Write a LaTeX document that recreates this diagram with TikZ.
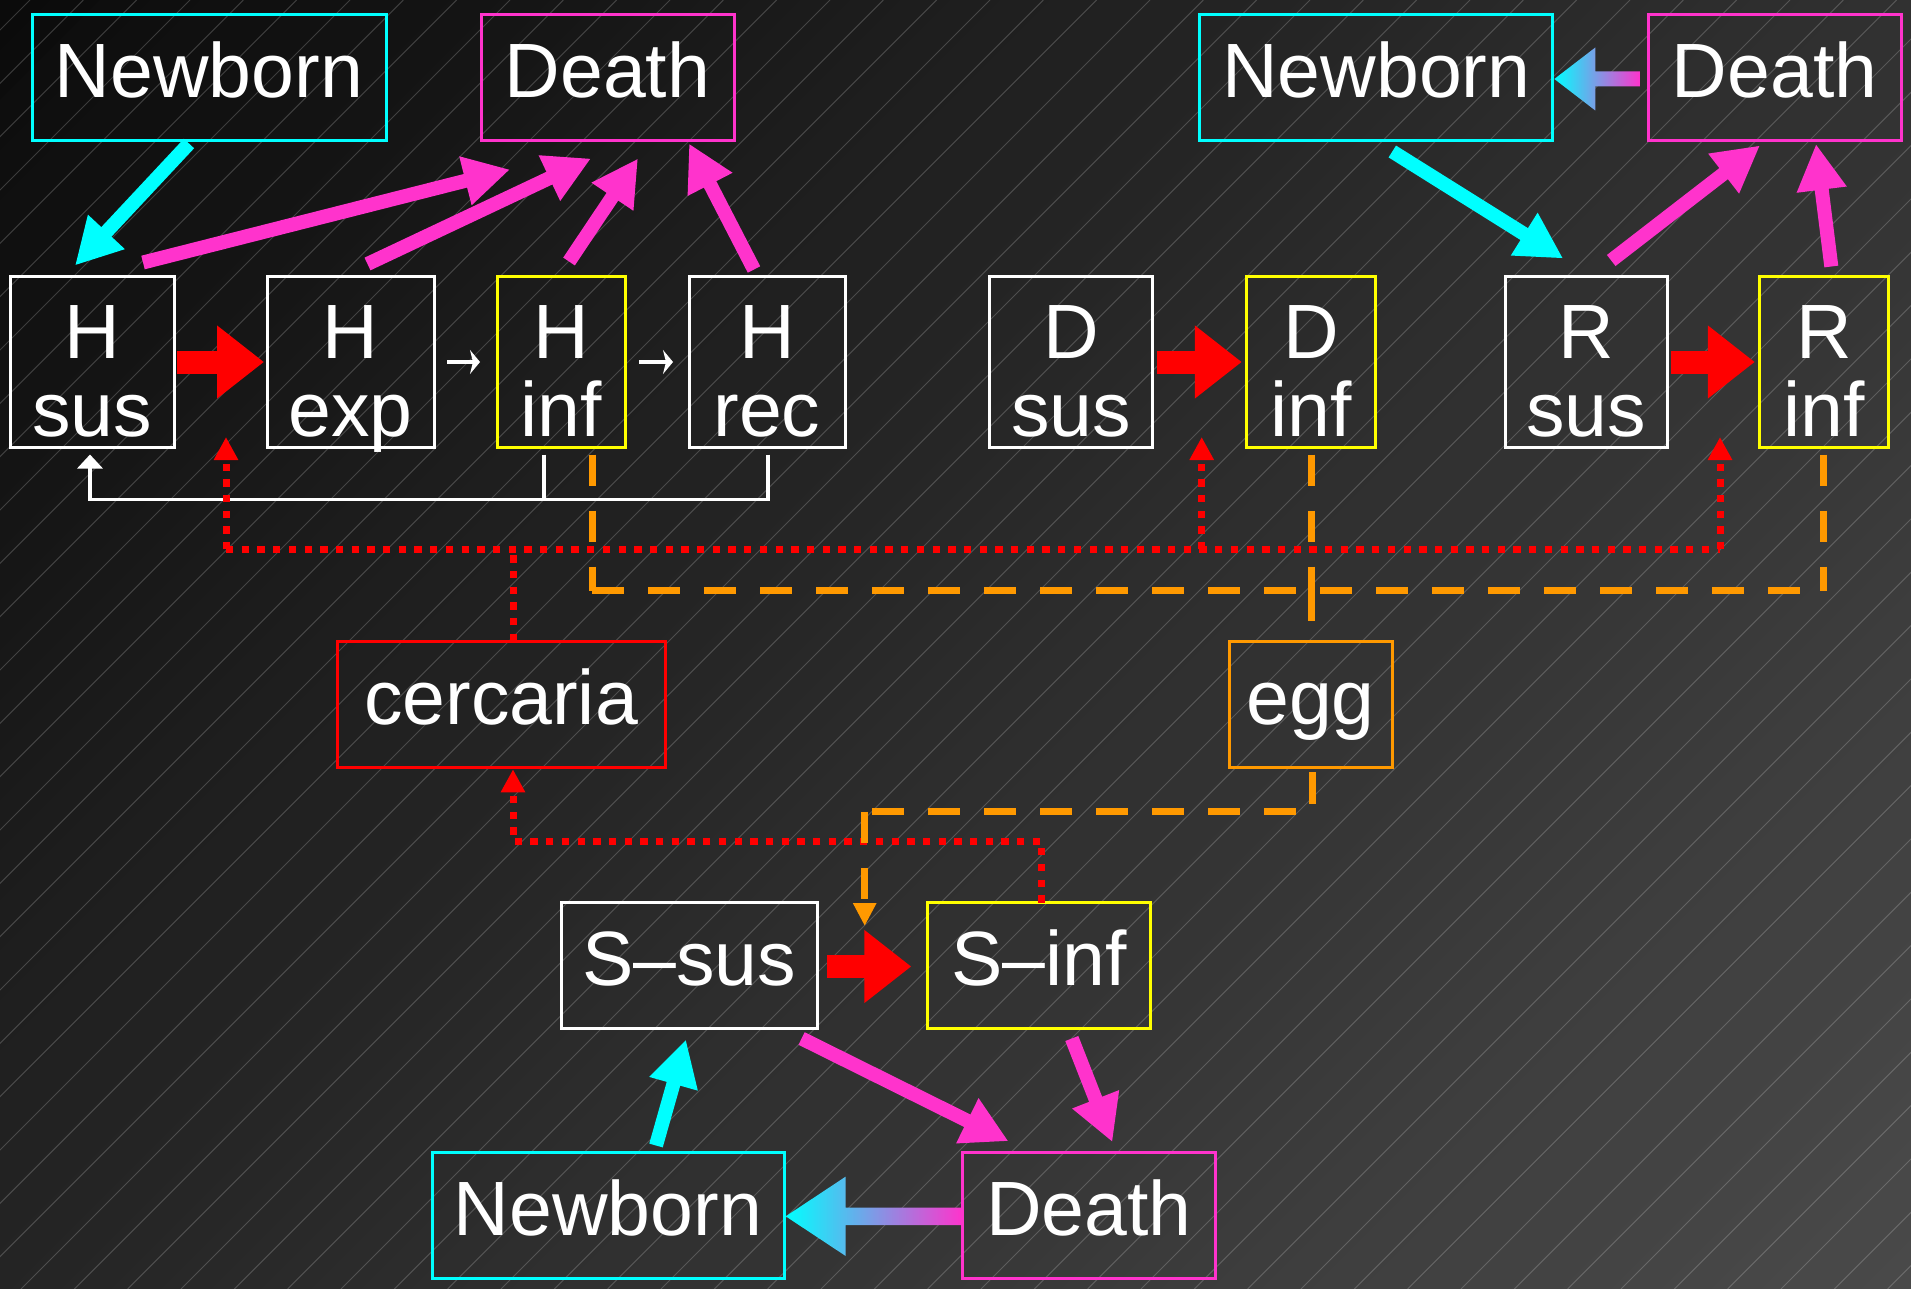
\documentclass[tikz,border=0pt]{standalone}
\usepackage{fontspec}
\setmainfont{Liberation Sans}
\usetikzlibrary{arrows.meta,calc}

\definecolor{cyanC}{HTML}{00FFFF}
\definecolor{magC}{HTML}{FF33CC}
\definecolor{yelC}{HTML}{FFFF00}
\definecolor{redC}{HTML}{FF0000}
\definecolor{oraC}{HTML}{FF9900}
\definecolor{bgA}{HTML}{0B0B0B}
\definecolor{bgB}{HTML}{4A4A4A}

% two centred lines, baseline on the first one
\newcommand\pair[2]{\vtop{\halign{\hfil##\hfil\cr#1\cr#2\cr}}}

\tikzset{
  box/.style={draw, line width=3pt, inner sep=0pt, outer sep=0pt, text=white,
    font=\fontsize{77pt}{77.4pt}\selectfont},
  one/.style={box, minimum height=126pt, text height=40pt, text depth=0pt},
  two/.style={box, minimum height=171pt, text height=60pt, text depth=66.4pt},
  flow/.style={line width=14pt, -{Triangle[length=46pt, width=47pt]}},
  block/.style={draw=redC, line width=23pt, -{Triangle[length=47pt, width=70pt]}},
  cerc/.style={draw=redC, line width=7pt, dash pattern=on 7.3pt off 8.4pt},
  eggline/.style={draw=oraC, line width=7pt, dash pattern=on 31.7pt off 24.3pt},
  redtip/.style={-{Triangle[length=23pt, width=23pt]}},
  oratip/.style={-{Triangle[length=23pt, width=22pt]}},
  wire/.style={draw=white, line width=3.3pt},
}

\begin{document}
\begin{tikzpicture}[x=1pt, y=-1pt]
\useasboundingbox (0,0) rectangle (1911,1289);

% background: diagonal gradient with fine hatching
\begin{scope}
  \clip (0,0) rectangle (1911,1289);
  \foreach \i in {0,...,63} {
    \pgfmathsetmacro\s{\i*50}
    \pgfmathsetmacro\p{(\i+0.5)/64*100}
    \fill[bgB!\p!bgA] (\s,0) -- (\s+51,0) -- (\s+51-1289,1289) -- (\s-1289,1289) -- cycle;
  }
  \foreach \k in {0,...,61} {
    \pgfmathsetmacro\s{30+\k*53.333}
    \draw[white, opacity=0.19, line width=1pt] (\s,0) -- (\s-1289,1289);
  }
\end{scope}

% compartments
\node[one, draw=cyanC, minimum width=354pt] (nbTL) at (209,77.5) {Newborn};
\node[one, draw=magC,  minimum width=253pt] (deTL) at (607.5,77.5) {Death};
\node[one, draw=cyanC, minimum width=353pt] (nbTR) at (1376.3,77.5) {Newborn};
\node[one, draw=magC,  minimum width=253pt] (deTR) at (1774.5,77.5) {Death};

\node[two, draw=white, minimum width=164pt] (Hsus) at (92,362) {\pair{H}{sus}};
\node[two, draw=white, minimum width=167pt] (Hexp) at (350.5,362) {\pair{H}{exp}};
\node[two, draw=yelC,  minimum width=128pt] (Hinf) at (561,362) {\pair{H}{inf}};
\node[two, draw=white, minimum width=156pt] (Hrec) at (767,362) {\pair{H}{rec}};
\node[two, draw=white, minimum width=163pt] (Dsus) at (1071.3,362) {\pair{D}{sus}};
\node[two, draw=yelC,  minimum width=129pt] (Dinf) at (1311.3,362) {\pair{D}{inf}};
\node[two, draw=white, minimum width=162pt] (Rsus) at (1586.2,362) {\pair{R}{sus}};
\node[two, draw=yelC,  minimum width=129pt] (Rinf) at (1824.3,362) {\pair{R}{inf}};

\node[one, draw=redC, minimum width=328pt] (cerc) at (501,704) {cercaria};
\node[one, draw=oraC, minimum width=163pt] (egg)  at (1310.5,704) {egg};

\node[one, draw=white, minimum width=256pt] (Ssus) at (689,965.5) {S–sus};
\node[one, draw=yelC,  minimum width=223pt] (Sinf) at (1038.8,965.5) {S–inf};

\node[one, draw=cyanC, minimum width=352pt] (nbB) at (608,1215.5) {Newborn};
\node[one, draw=magC,  minimum width=253pt] (deB) at (1089,1215.5) {Death};

% infection
\draw[block] ($(Hsus.east)+(3,0)$) -- ($(Hexp.west)+(-3,0)$);
\draw[block] ($(Dsus.east)+(4,0)$) -- ($(Dinf.west)+(-5,0)$);
\draw[block] ($(Rsus.east)+(4,0)$) -- ($(Rinf.west)+(-5,0)$);
\draw[block] ($(Ssus.east)+(10,1)$) -- ($(Sinf.west)+(-16,1)$);

% progression and recovery of hosts
\draw[wire, -{Stealth[length=10pt, width=24pt, inset=3pt]}] ($(Hexp.east)+(13,0)$) -- ($(Hinf.west)+(-17,0)$);
\draw[wire, -{Stealth[length=10pt, width=24pt, inset=3pt]}] ($(Hinf.east)+(14,0)$) -- ($(Hrec.west)+(-16,0)$);
\coordinate (recB) at ($(Hrec.south)+(1,52)$);
\draw[wire, -{Triangle[length=14pt, width=25pt]}] ($(Hrec.south)+(1,7)$) -- (recB) -| ($(Hsus.south)+(-2,7)$);
\draw[wire] ($(Hinf.south)+(-17,7)$) -- ($(Hinf.south)+(-17,52)$);

% births and deaths
\draw[flow, cyanC] ($(nbTL.south)+(-20,3)$) -- ($(Hsus.north)+(-17,-11)$);
\draw[flow, magC] ($(Hsus.north)+(51,-14)$) -- ($(deTL.south)+(-97.5,29)$);
\draw[flow, magC] ($(Hexp.north)+(17,-12.5)$) -- ($(deTL.south)+(-16.5,18)$);
\draw[flow, magC] ($(Hinf.north)+(8,-15)$) -- ($(deTL.south)+(30.5,18)$);
\draw[flow, magC] ($(Hrec.north)+(-13,-7)$) -- ($(deTL.south)+(81.5,3)$);

\draw[flow, cyanC] ($(nbTR.south)+(16,11)$) -- ($(Rsus.north)+(-23,-18)$);
\draw[flow, magC] ($(Rsus.north)+(25,-16)$) -- ($(deTR.south)+(-14.5,5)$);
\draw[flow, magC] ($(Rinf.north)+(7,-10)$) -- ($(deTR.south)+(41.5,3.5)$);

\draw[flow, cyanC] ($(nbB.north)+(48,-7)$) -- ($(Ssus.south)+(-3,11)$);
\draw[flow, magC] ($(Ssus.south)+(112.6,10)$) -- ($(deB.north)+(-80.5,-11.3)$);
\draw[flow, magC] ($(Sinf.south)+(33,10)$) -- ($(deB.north)+(23.4,-10.4)$);

% deaths feeding births (shaded arrows)
\coordinate (gtipA) at ($(nbTR.east)+(1.5,1.5)$);
\coordinate (gtailA) at ($(deTR.west)+(-8,1.5)$);
\shade[left color=cyanC, right color=magC]
  (gtipA) -- ($(gtipA)+(41,-31.5)$) -- ($(gtipA)+(41,-7.5)$) -- ($(gtailA)+(0,-7.5)$)
  -- ($(gtailA)+(0,7.5)$) -- ($(gtipA)+(41,7.5)$) -- ($(gtipA)+(41,31.5)$) -- cycle;
\coordinate (gtipB) at ($(nbB.east)+(1.7,0.8)$);
\coordinate (gtailB) at ($(deB.west)+(0.2,0.8)$);
\shade[left color=cyanC, right color=magC]
  (gtipB) -- ($(gtipB)+(60,-39.7)$) -- ($(gtipB)+(60,-8.8)$) -- ($(gtailB)+(0,-8.8)$)
  -- ($(gtailB)+(0,8.8)$) -- ($(gtipB)+(60,8.8)$) -- ($(gtipB)+(60,39.7)$) -- cycle;

% cercaria exposure
\coordinate (cJ) at ($(cerc.north)+(12,-91.7)$);
\coordinate (cL) at (226,549.3);
\coordinate (cD) at (1201.7,549.3);
\coordinate (cR) at (1720,549.3);
\coordinate (tH) at (226,437);
\coordinate (tD) at (1201.7,437);
\coordinate (tR) at (1720,437);
\draw[cerc] ($(cerc.north)+(12,0)$) -- (cJ);
\draw[cerc] (cL) -- (cR);
\draw[cerc, redtip] (cL) -- (tH);
\draw[cerc, redtip] (cD) -- (tD);
\draw[cerc, redtip] (cR) -- (tR);
\draw[cerc, redtip] ($(Sinf.north)+(3,0)$) |- ($(cerc.south)+(12,74.4)$) -- ($(cerc.south)+(12,2.3)$);

% egg shedding
\coordinate (oL) at (592,590.7);
\coordinate (oD) at (1311.3,590.7);
\coordinate (oR) at (1823.3,590.7);
\coordinate (oS) at (864.7,811.5);
\coordinate (tS) at (864.7,926);
\draw[eggline] ($(Hinf.south)+(31,7)$) -- (oL);
\draw[eggline] (oL) -- (oR);
\draw[eggline] ($(Rinf.south)+(-1,7)$) -- (oR);
\draw[eggline] ($(Dinf.south)+(0,7)$) -- (oD);
\draw[eggline] (oD) -- ($(egg.north)+(0.8,-20)$);
\draw[eggline] ($(egg.south)+(1.5,5)$) |- (oS);
\draw[eggline, oratip] (oS) -- (tS);
\end{tikzpicture}
\end{document}
